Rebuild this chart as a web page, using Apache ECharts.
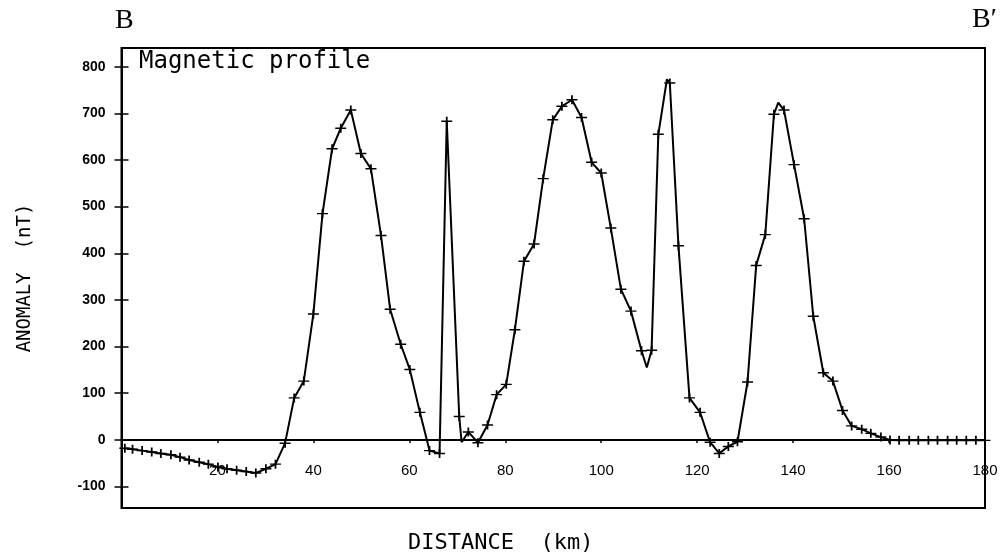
<!DOCTYPE html>
<html>
<head>
<meta charset="utf-8">
<script src="https://cdn.jsdelivr.net/npm/echarts@6/dist/echarts.min.js"></script>
<style>
    html, body { margin: 0; padding: 0; background: #fff; }
    #main { width: 1002px; height: 560px; }
</style>
</head>
<body>
<div id="main"></div>
<script>
// profile B - B', stations
var distance = [0.7, 2.3, 4.3, 6.3, 8.2, 10.3, 12.2, 14.1, 16.2, 18.1, 20.1, 22.0, 24.0, 26.0, 28.0,
    30.1, 32.1, 34.1, 36.0, 38.0, 40.0, 41.9, 43.9, 45.7, 47.8, 49.9, 52.0, 54.1, 56.0, 58.2,
    60.1, 62.2, 64.2, 66.3, 67.8, 70.4, 70.9, 72.3, 74.3, 76.3, 78.2, 80.2, 82.0, 83.9, 86.0,
    87.9, 89.9, 91.8, 93.9, 95.9, 98.0, 100.0, 102.0, 104.1, 106.2, 108.4, 109.5, 110.5, 111.9,
    113.7, 114.3, 116.1, 118.4, 120.6, 122.7, 124.6, 126.5, 128.4, 130.5, 132.3, 134.2, 136.0,
    136.9, 138.1, 140.2, 142.3, 144.2, 146.3, 148.3, 150.3, 152.2, 154.3, 156.2, 158.3, 160.2,
    162.1, 164.2, 166.1, 168.2, 170.1, 172.2, 174.1, 176.1, 178.1, 180.0];
var anomaly = [-18, -20, -23, -26, -29, -32, -37, -43, -48, -52, -58, -62, -65, -68, -71,
    -62, -52, -7, 90, 126, 270, 485, 624, 668, 707, 614, 581, 438, 280, 205,
    151, 59, -23, -29, 683, 50, -5, 17, -6, 32, 97, 119, 236, 383, 420,
    560, 686, 715, 729, 691, 595, 572, 454, 323, 276, 191, 155, 192, 655,
    773, 765, 416, 90, 59, -5, -29, -14, -4, 124, 374, 440, 698,
    723, 707, 590, 474, 265, 144, 126, 63, 30, 23, 14, 6, 0,
    -1, -1, -1, -1, -1, -1, -1, -1, -1, -1];
// curve vertices drawn without a station cross
var vertexOnly = [70.9, 109.5, 113.7, 136.9];
var yTicks = [-100, 0, 100, 200, 300, 400, 500, 600, 700, 800];

var points = [];
for (var i = 0; i < distance.length; i++) {
    var p = { value: [distance[i], anomaly[i]] };
    if (vertexOnly.indexOf(distance[i]) >= 0) {
        p.symbol = 'none';
    }
    points.push(p);
}

var option = {
    animation: false,
    backgroundColor: '#fff',
    grid: {
        left: 121.5,
        right: 17,
        top: 48,
        bottom: 52,
        outerBoundsMode: 'none',
        show: true,
        borderColor: '#000',
        borderWidth: 2
    },
    xAxis: {
        type: 'value',
        min: 0,
        max: 180,
        interval: 20,
        axisLine: { onZero: true, lineStyle: { color: '#000', width: 2 } },
        axisTick: { length: 3, lineStyle: { color: '#000', width: 1.5 } },
        axisLabel: {
            // labels sit just under the zero line
            margin: -45,
            color: '#000',
            fontSize: 15,
            fontFamily: 'Liberation Sans',
            formatter: function (v) { return v === 0 ? '' : v; }
        },
        splitLine: { show: false }
    },
    yAxis: [
        {
            type: 'value',
            min: -146,
            max: 840,
            axisLine: { show: true, lineStyle: { color: '#000', width: 2 } },
            axisTick: { show: true, length: 7, customValues: yTicks, lineStyle: { color: '#000', width: 1.5 } },
            axisLabel: {
                customValues: yTicks,
                margin: 16,
                color: '#000',
                fontSize: 14,
                fontWeight: 'bold',
                fontFamily: 'Liberation Sans'
            },
            splitLine: { show: false },
            name: 'ANOMALY  (nT)',
            nameLocation: 'middle',
            nameGap: 87,
            nameTextStyle: { color: '#000', fontSize: 19, fontFamily: 'DejaVu Sans Mono' }
        },
        {
            // inner half of the cross ticks on the left frame
            type: 'value',
            position: 'left',
            min: -146,
            max: 840,
            axisLine: { show: false },
            axisTick: { show: true, inside: true, length: 7, customValues: yTicks, lineStyle: { color: '#000', width: 1.5 } },
            axisLabel: { show: false },
            splitLine: { show: false }
        }
    ],
    graphic: [
        { type: 'text', left: 115, top: 7, style: { text: 'B', font: '28px "Liberation Serif"', fill: '#000' } },
        { type: 'text', left: 972, top: 6, style: { text: 'B\u2032', font: '28px "Liberation Serif"', fill: '#000' } },
        { type: 'text', left: 139, top: 50, style: { text: 'Magnetic profile', font: '24px "DejaVu Sans Mono"', fill: '#000' } },
        { type: 'text', left: 408, top: 532, style: { text: 'DISTANCE  (km)', font: '22px "DejaVu Sans Mono"', fill: '#000' } }
    ],
    series: [
        {
            name: 'Magnetic profile',
            type: 'line',
            data: points,
            showAllSymbol: true,
            symbol: 'path://M0,5L10,5M5,0L5,10',
            symbolSize: [11, 9],
            lineStyle: { color: '#000', width: 2 },
            itemStyle: { color: '#000', borderColor: '#000', borderWidth: 1.6 }
        }
    ]
};

var chart = echarts.init(document.getElementById('main'));
chart.setOption(option);
</script>
</body>
</html>
